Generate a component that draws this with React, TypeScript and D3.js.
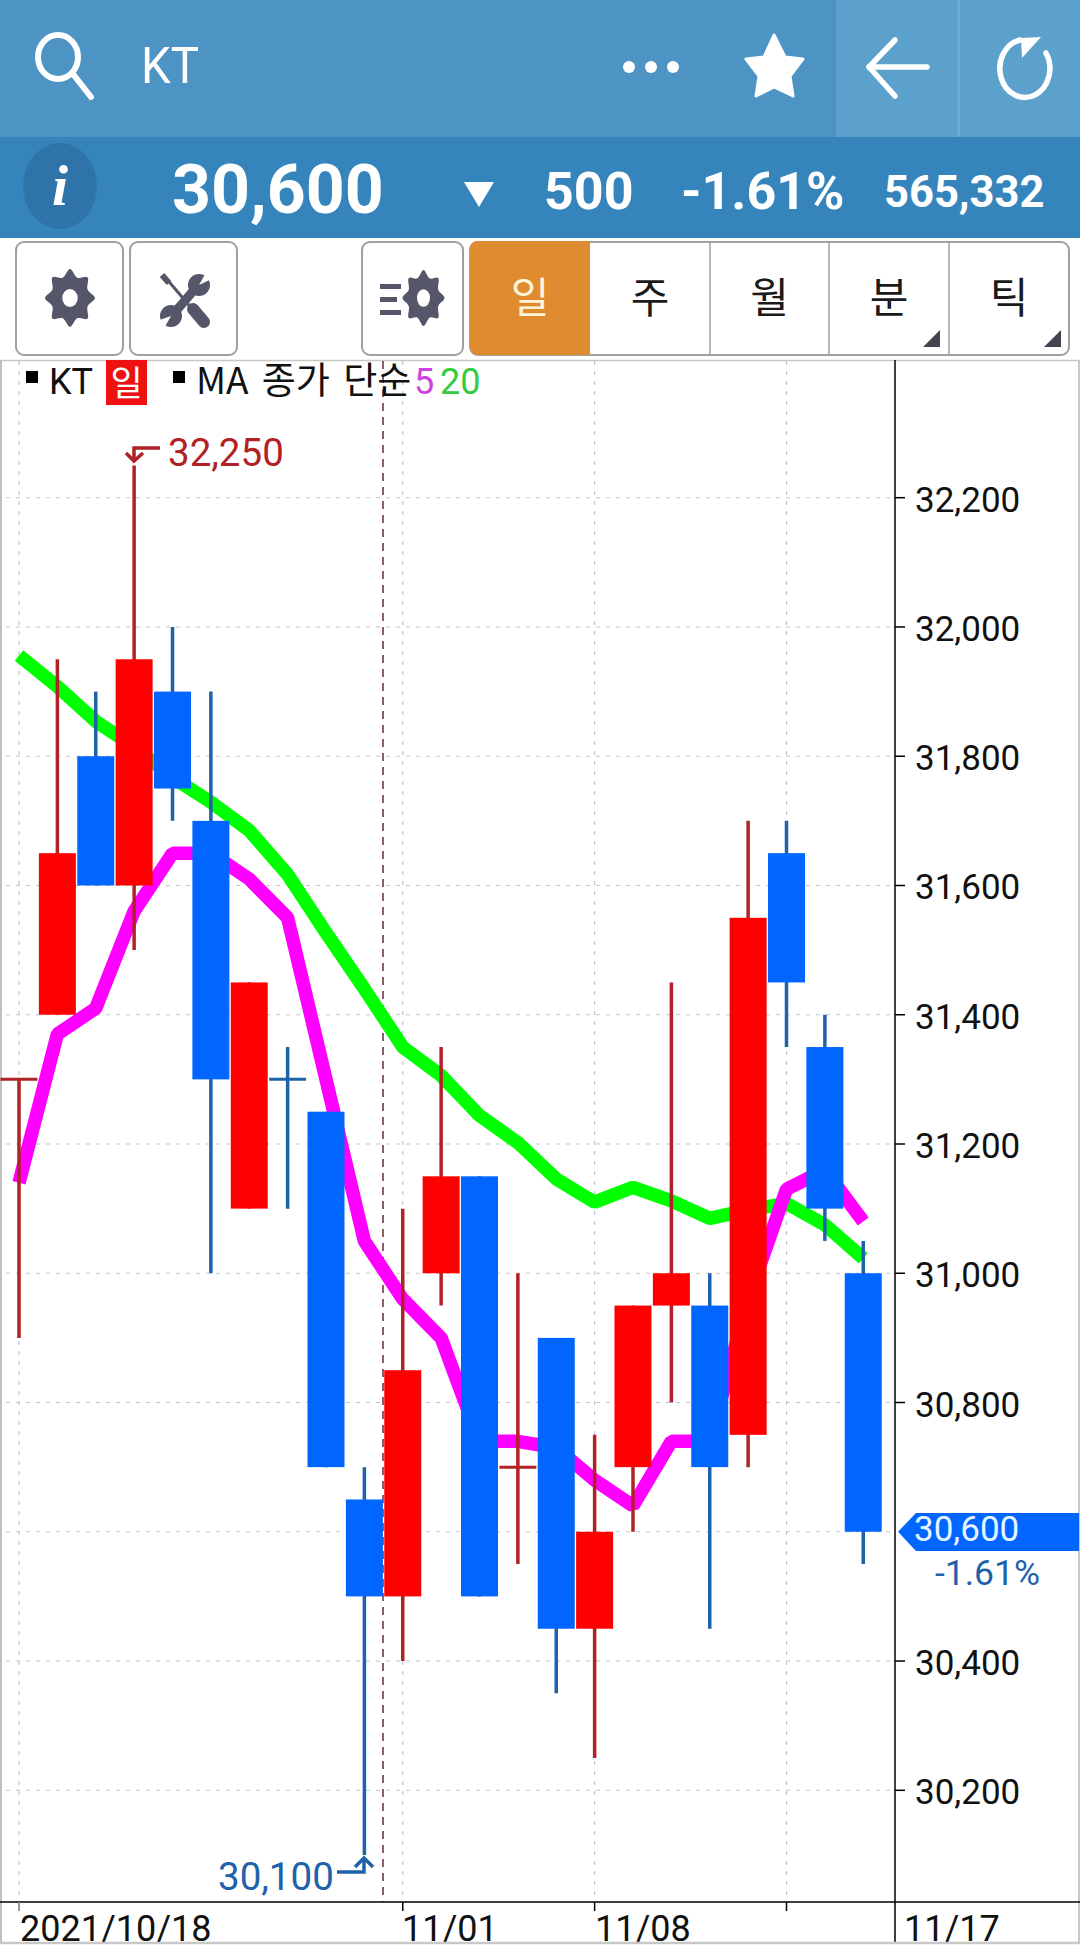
import React from "react";
import * as d3 from "d3";

const opens = [31300, 31400, 31800, 31600, 31900, 31700, 31100, 31300, 31250, 30650, 30500, 31000, 31150, 30700, 30900, 30450, 30700, 30950, 30950, 30750, 31650, 31350, 31000];
const closes = [31300, 31650, 31600, 31950, 31750, 31300, 31450, 31300, 30700, 30500, 30850, 31150, 30500, 30700, 30450, 30600, 30950, 31000, 30700, 31550, 31450, 31100, 30600];
const highs = [31300, 31950, 31900, 32250, 32000, 31900, 31450, 31350, 31250, 30700, 31100, 31350, 31150, 31000, 30900, 30750, 30950, 31450, 31000, 31700, 31700, 31400, 31050];
const lows = [30900, 31400, 31600, 31500, 31700, 31000, 31100, 31100, 30700, 30100, 30400, 30950, 30500, 30550, 30350, 30250, 30600, 30800, 30450, 30700, 31350, 31050, 30550];
const upFlags = [1, 1, 0, 1, 0, 0, 1, 0, 0, 0, 1, 1, 0, 1, 0, 1, 1, 1, 0, 1, 0, 0, 0];
const ma5 = [31140, 31370, 31410, 31560, 31650, 31650, 31610, 31550, 31300, 31050, 30960, 30900, 30740, 30740, 30730, 30680, 30640, 30740, 30740, 30960, 31130, 31160, 31080];
const ma20 = [31956, 31908, 31854, 31815, 31767, 31729, 31685, 31617, 31527, 31440, 31350, 31306, 31244, 31202, 31146, 31110, 31133, 31112, 31085, 31098, 31108, 31075, 31023];
const yTicks = [32200, 32000, 31800, 31600, 31400, 31200, 31000, 30800, 30400, 30200];
const gridOnly = [30600];
const xGridIdx = [0, 10, 15, 20];
const xLabels = [
  { t: "2021/10/18", x: 20 },
  { t: "11/01", x: 402 },
  { t: "11/08", x: 595 },
  { t: "11/17", x: 904 },
];
const tabs = ["일", "주", "월", "분", "틱"];
const tabEdges = [470, 590, 710, 829, 949, 1069];

const UP = "#ff0000";
const DOWN = "#0066ff";
const UPW = "#b02226";
const DOWNW = "#1e62aa";
const ICON = "#55566a";
const latin = "Roboto, sans-serif";
const cjk = "'Noto Sans CJK KR', Roboto, sans-serif";

const y = d3.scaleLinear().domain([30200, 32200]).range([1790.3, 497.7]);
const x = d3.scaleLinear().domain([0, 20]).range([19, 786.5]);
const fmt = d3.format(",");

function gearPath() {
  const pts: [number, number][] = [];
  for (let i = 0; i < 16; i++) {
    pts.push([(i * Math.PI) / 8, i % 2 === 0 ? 1 : 0.76]);
  }
  return d3.lineRadial().curve(d3.curveCatmullRomClosed.alpha(0.1))(pts) as string;
}

function Gear({ cx, cy, rx, ry }: { cx: number; cy: number; rx: number; ry: number }) {
  return (
    <g transform={`translate(${cx},${cy}) scale(${rx},${ry})`}>
      <path d={gearPath()} fill={ICON} />
      <circle r={0.31} fill="#fff" />
    </g>
  );
}

export default function App() {
  const line5 = d3.line<number>().x((_, i) => x(i)).y((d) => y(d))(ma5) as string;
  const line20 = d3.line<number>().x((_, i) => x(i)).y((d) => y(d))(ma20) as string;
  const bw = 37;
  const last = closes[closes.length - 1];
  return (
    <svg
      width={1080}
      height={1949}
      viewBox="0 0 1080 1949"
      style={{ position: "absolute", left: 0, top: 0, background: "#fff" }}
    >
      {/* top bars */}
      <rect x={0} y={0} width={1080} height={137} fill="#4d93c4" />
      <rect x={836} y={0} width={244} height={137} fill="#5ca0cc" />
      <rect x={958} y={0} width={1.5} height={137} fill="#7ab2d6" />
      <rect x={0} y={137} width={1080} height={101} fill="#3585bc" />

      <g fill="none" stroke="#fff" strokeLinecap="round" strokeLinejoin="round">
        <ellipse cx={58} cy={57} rx={20} ry={22} strokeWidth={6} />
        <line x1={73} y1={74} x2={91} y2={97} strokeWidth={6} />
        <polyline points="895,40 869,67 895,96" strokeWidth={5.5} />
        <line x1={869} y1={67} x2={927} y2={67} strokeWidth={5.5} />
        <path d="M1020 40 A25 29 0 1 0 1046 53" strokeWidth={5.5} />
      </g>
      <polygon points="1041,37 1021,38 1022,58" fill="#fff" />
      <text x={141} y={83} fill="#fff" fontFamily={latin} fontWeight={400} fontSize={50} textLength={58} lengthAdjust="spacingAndGlyphs">KT</text>
      <circle cx={629} cy={67} r={6} fill="#fff" />
      <circle cx={651} cy={67} r={6} fill="#fff" />
      <circle cx={673} cy={67} r={6} fill="#fff" />
      <polygon
        points="774,35 785,57 803,59 790,76 793,96 774,87 756,96 759,76 746,59 764,57"
        fill="#fff"
        stroke="#fff"
        strokeWidth={3}
        strokeLinejoin="round"
      />

      <ellipse cx={60} cy={186} rx={37} ry={43} fill="#2e74a8" />
      <text x={60} y={205} textAnchor="middle" fill="#fff" fontFamily="'Liberation Serif', serif" fontStyle="italic" fontWeight={700} fontSize={58}>i</text>
      <text x={172} y={213} fill="#fff" fontFamily={latin} fontWeight={700} fontSize={68}>{fmt(last)}</text>
      <polygon points="464,182 494,182 479,207" fill="#fff" />
      <text x={544} y={209} fill="#fff" fontFamily={latin} fontWeight={700} fontSize={52}>500</text>
      <text x={681} y={209} fill="#fff" fontFamily={latin} fontWeight={700} fontSize={52}>-1.61%</text>
      <text x={884} y={207} fill="#fff" fontFamily={latin} fontWeight={700} fontSize={43.5}>565,332</text>

      {/* toolbar */}
      {[[16, 107], [130, 107], [362, 101]].map(([bx, w]) => (
        <rect key={bx} x={bx} y={242} width={w} height={113} rx={8} fill="#fff" stroke="#a0a0a0" strokeWidth={2} />
      ))}
      <Gear cx={70} cy={298} rx={25} ry={29} />
      <g stroke={ICON} fill="none">
        <line x1={165} y1={277} x2={205} y2={324} strokeWidth={3} />
        <line x1={162} y1={275} x2={169} y2={283} strokeWidth={6} />
        <line x1={193} y1={309} x2={204} y2={322} strokeWidth={12} strokeLinecap="round" />
        <line x1={170} y1={318} x2={200} y2={283} strokeWidth={9} />
      </g>
      <g fill={ICON}>
        <circle cx={199} cy={285} r={11} />
        <circle cx={171} cy={316} r={11} />
      </g>
      <polygon points="199,285 208,269 216,277" fill="#fff" />
      <polygon points="171,316 154,322 162,332" fill="#fff" />
      <Gear cx={423.5} cy={298} rx={21} ry={28} />
      <g fill={ICON}>
        <rect x={380} y={284} width={21} height={5} />
        <rect x={380} y={297} width={17} height={5} />
        <rect x={380} y={310} width={21} height={5} />
      </g>

      <rect x={470} y={242} width={599} height={113} rx={8} fill="#fff" stroke="#a0a0a0" strokeWidth={2} />
      <path d="M478 241 H590 V355 H478 Q470 355 470 347 V249 Q470 241 478 241 Z" fill="#de8c2f" />
      {tabEdges.slice(2, 5).map((e) => (
        <line key={e} x1={e} y1={242} x2={e} y2={355} stroke="#a0a0a0" strokeWidth={1.5} />
      ))}
      {tabs.map((t, i) => (
        <text
          key={t}
          x={(tabEdges[i] + tabEdges[i + 1]) / 2}
          y={313}
          textAnchor="middle"
          fontFamily={cjk}
          fontSize={42}
          fill={i === 0 ? "#fff3d8" : "#1a1a1a"}
        >
          {t}
        </text>
      ))}
      <polygon points="940,330 940,347 923,347" fill="#444450" />
      <polygon points="1061,330 1061,347 1044,347" fill="#444450" />

      {/* chart frame */}
      <line x1={0} y1={360.5} x2={1080} y2={360.5} stroke="#c8c8c8" strokeWidth={1.5} />
      <line x1={1} y1={360} x2={1} y2={1943} stroke="#c0c0c0" strokeWidth={2} />
      <line x1={1079} y1={360} x2={1079} y2={1943} stroke="#c8c8c8" strokeWidth={2} />

      {[...yTicks, ...gridOnly].map((v) => (
        <line key={v} x1={6} y1={y(v)} x2={895} y2={y(v)} stroke="#c4c4c4" strokeWidth={1} strokeDasharray="4 6" />
      ))}
      {xGridIdx.map((i) => (
        <line key={i} x1={x(i)} y1={361} x2={x(i)} y2={1902} stroke="#c4c4c4" strokeWidth={1.2} strokeDasharray="4 6" />
      ))}
      <line x1={383} y1={361} x2={383} y2={1902} stroke="#6b2a3a" strokeWidth={1.5} strokeDasharray="8 6" />

      <path d={line20} fill="none" stroke="#00ff00" strokeWidth={13.5} strokeLinejoin="bevel" />
      <path d={line5} fill="none" stroke="#ff00ff" strokeWidth={13.5} strokeLinejoin="bevel" />

      {opens.map((o, i) => {
        const c = closes[i];
        const up = upFlags[i] === 1;
        const cx = x(i);
        const top = y(Math.max(o, c));
        const bot = y(Math.min(o, c));
        return (
          <g key={i}>
            <line x1={cx} y1={y(highs[i])} x2={cx} y2={y(lows[i])} stroke={up ? UPW : DOWNW} strokeWidth={3.5} />
            {o === c ? (
              <line x1={cx - bw / 2} y1={top} x2={cx + bw / 2} y2={top} stroke={up ? UPW : DOWNW} strokeWidth={3} />
            ) : (
              <rect x={cx - bw / 2} y={top} width={bw} height={bot - top} fill={up ? UP : DOWN} />
            )}
          </g>
        );
      })}

      {/* high / low markers */}
      <g fill="none" stroke={UPW} strokeWidth={3.5}>
        <polyline points="160,448 134,448 134,461" />
        <polyline points="126,453 134,461 143,453" />
      </g>
      <text x={168} y={466} fill={UPW} fontFamily={latin} fontSize={38.5}>{fmt(32250)}</text>
      <g fill="none" stroke={DOWNW} strokeWidth={3.5}>
        <polyline points="337,1872 364,1872 364,1858" />
        <polyline points="355,1867 364,1858 373,1867" />
      </g>
      <text x={218} y={1890} fill={DOWNW} fontFamily={latin} fontSize={38.5}>{fmt(30100)}</text>

      {/* axes */}
      <line x1={895} y1={360} x2={895} y2={1943} stroke="#000" strokeWidth={1.5} />
      <line x1={0} y1={1902} x2={1080} y2={1902} stroke="#000" strokeWidth={1.5} />
      {xGridIdx.map((i) => (
        <line key={i} x1={x(i)} y1={1902} x2={x(i)} y2={1911} stroke={i === 0 ? "#777" : "#000"} strokeWidth={1.5} />
      ))}
      {yTicks.map((v) => (
        <g key={v}>
          <line x1={895} y1={y(v)} x2={905} y2={y(v)} stroke="#000" strokeWidth={1.5} />
          <text x={915} y={y(v) + 14} fill="#111" fontFamily={latin} fontSize={35}>{fmt(v)}</text>
        </g>
      ))}
      {xLabels.map((l) => (
        <text key={l.t} x={l.x} y={1941} fill="#111" fontFamily={latin} fontSize={36}>{l.t}</text>
      ))}
      <rect x={0} y={1943} width={1080} height={6} fill="#fff" />
      <line x1={0} y1={1943} x2={1080} y2={1943} stroke="#c8c8c8" strokeWidth={2.5} />

      {/* current price tag */}
      <polygon points={`898,${y(last)} 916,1513 1079,1513 1079,1551 916,1551`} fill={DOWN} />
      <text x={914} y={1541} fill="#e6f6ff" fontFamily={latin} fontSize={35}>{fmt(last)}</text>
      <text x={935} y={1585} fill={DOWNW} fontFamily={latin} fontSize={35.5}>-1.61%</text>

      {/* legend */}
      <rect x={26} y={371} width={12} height={12} fill="#000" />
      <text x={49} y={394} fill="#111" fontFamily={latin} fontSize={36}>KT</text>
      <rect x={106} y={360} width={41} height={45} fill="#ee1111" />
      <text x={126.5} y={396} textAnchor="middle" fill="#fff" fontFamily={cjk} fontSize={35}>일</text>
      <rect x={173} y={371} width={12} height={12} fill="#000" />
      <text x={196} y={394} fill="#111" fontFamily={cjk} fontSize={37} wordSpacing={5}>MA 종가 단순</text>
      <text x={414} y={394} fill="#cc44dd" fontFamily={latin} fontSize={36}>5</text>
      <text x={440} y={394} fill="#33cc44" fontFamily={latin} fontSize={36}>20</text>
    </svg>
  );
}
